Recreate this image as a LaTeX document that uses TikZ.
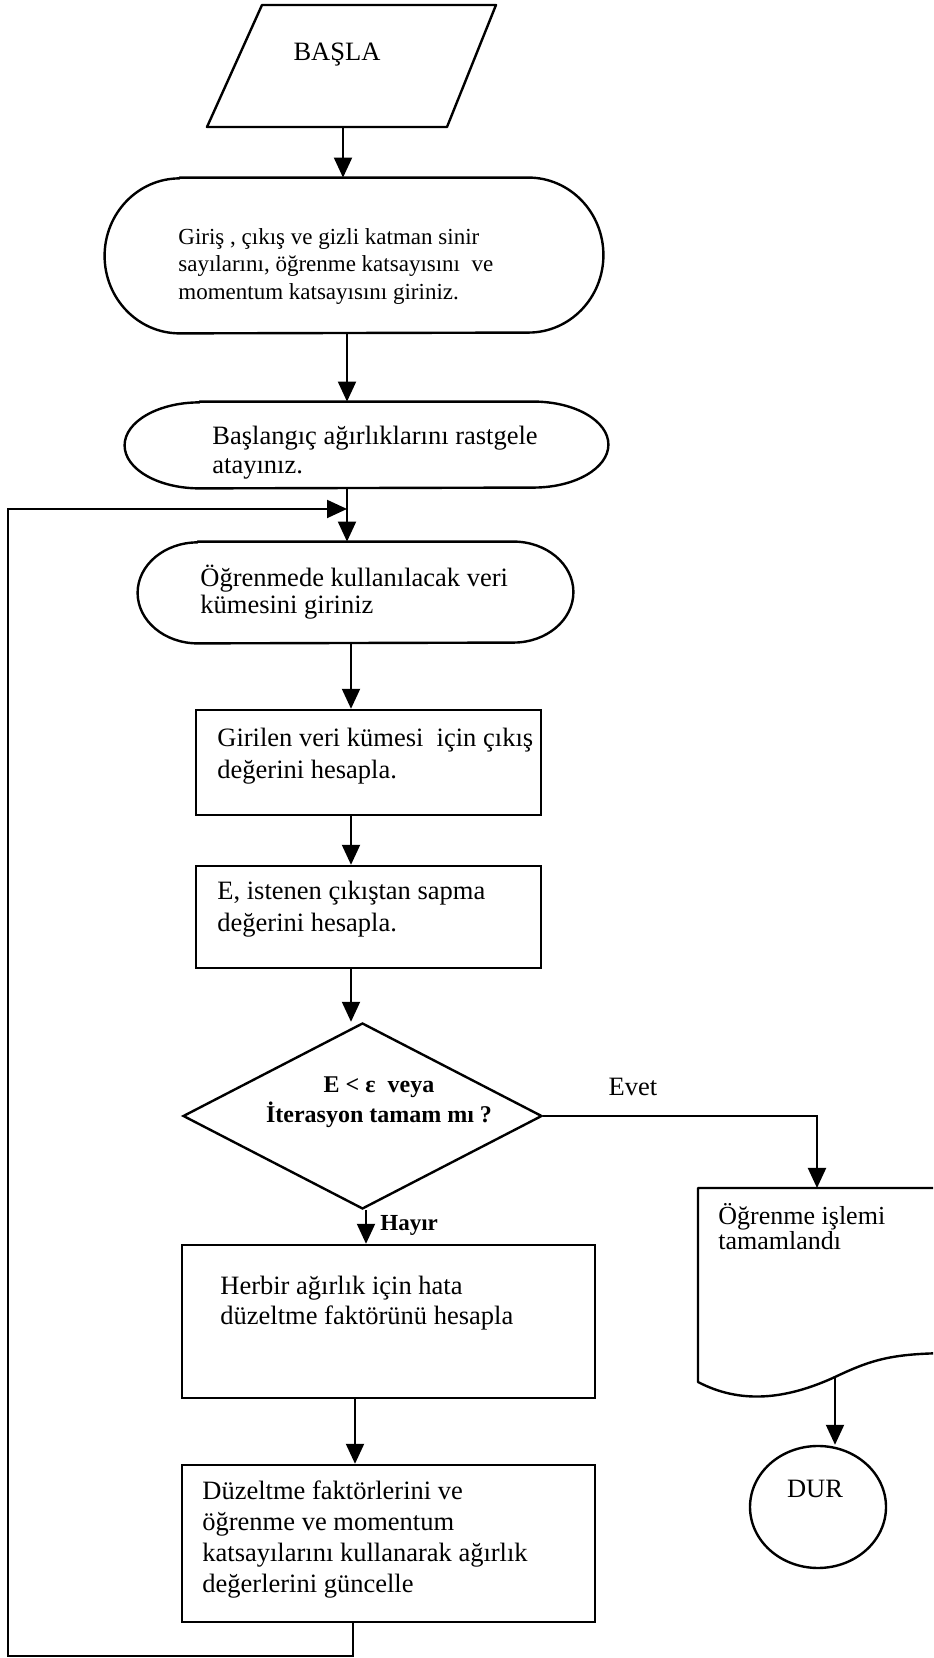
\documentclass[tikz,border=0pt]{standalone}
\usepackage{fontspec}
\setmainfont{Liberation Serif}
\usetikzlibrary{shapes.geometric,arrows.meta}

% first line strut, so the text nodes can hang from a fixed top
\newcommand{\firstln}{\rule{0pt}{12pt}}
% outline with elliptic ends round an (invisible) node
\newcommand{\ovalline}[3]{%
  \draw[line] ([xshift=#2]#1.north west) -- ([xshift=-#2]#1.north east)
    arc[start angle=90, end angle=-90, x radius=#2, y radius=#3]
    -- ([xshift=#2]#1.south west)
    arc[start angle=270, end angle=90, x radius=#2, y radius=#3] -- cycle;}

\tikzset{
  line/.style={line width=1.2pt, line join=round},
  arr/.style={line width=1pt, -{Triangle[length=10pt,width=9pt]}},
  slot/.style={rectangle, inner sep=0pt},
  box/.style={draw, line width=1.2pt, rectangle, inner sep=0pt},
  txt/.style={anchor=north west, align=left, inner sep=0pt},
}

\begin{document}
\begin{tikzpicture}[x=0.5pt, y=0.5pt, font=\fontsize{13.25}{16}\selectfont]
  \useasboundingbox (0,0) rectangle (933,1658);
  \clip (0,0) rectangle (933,1658);

  % Start
  \draw[line] (262,1653) -- (496,1653) -- (447,1531) -- (207,1531) -- cycle;
  \node[anchor=base] (start) at (337,1597) {BAŞLA};
  \coordinate (start-out) at (343,1531);

  % Input blocks
  \node[slot, minimum width=249pt, minimum height=77.5pt] (init) at (354,1402.5) {};
  \ovalline{init}{37.5pt}{38.75pt}
  \node[txt, font=\fontsize{11.5}{13.75}\selectfont] (init-t) at (178,1438)
    {\firstln Giriş , çıkış ve gizli katman sinir\\
     sayılarını, öğrenme katsayısını\ \ ve\\
     momentum katsayısını giriniz.};

  \node[slot, minimum width=241.5pt, minimum height=43pt] (weights) at (366.5,1213) {};
  \ovalline{weights}{37.5pt}{21.5pt}
  \node[txt, font=\fontsize{13.25}{14.5}\selectfont] (weights-t) at (212,1238)
    {\firstln Başlangıç ağırlıklarını rastgele\\ atayınız.};

  \node[slot, minimum width=217.5pt, minimum height=50.5pt] (data) at (355.5,1065.5) {};
  \ovalline{data}{30pt}{25.25pt}
  \node[txt, font=\fontsize{13.25}{13.5}\selectfont] (data-t) at (200,1096)
    {\firstln Öğrenmede kullanılacak veri\\ kümesini giriniz};

  % Forward pass and error
  \node[box, minimum width=172.5pt, minimum height=52.5pt] (output) at (368.5,895.5) {};
  \node[txt] (output-t) at (217,936)
    {\firstln Girilen veri kümesi\ \ için çıkış\\ değerini hesapla.};

  \node[box, minimum width=172.5pt, minimum height=51pt] (error) at (368.5,741) {};
  \node[txt] (error-t) at (217,783)
    {\firstln E, istenen çıkıştan sapma\\ değerini hesapla.};

  % Decision
  \node[diamond, draw, line width=1.2pt, inner sep=0pt,
        minimum width=179.5pt, minimum height=93pt] (check) at (362.5,542) {};
  \node[align=center, font=\bfseries\fontsize{12}{15}\selectfont] (check-t) at (379,556)
    {E < ε\ \ veya\\ İterasyon tamam mı ?};
  \node[anchor=base] (yes-t) at (633,562) {Evet};
  \node[anchor=base west, inner sep=0pt, font=\bfseries\fontsize{11.5}{13}\selectfont]
    (no-t) at (380,427) {Hayır};

  % Finished branch
  \draw[line] (960,470) -- (698,470) -- (698,276)
    .. controls (740,254) and (785,258) .. (835,281)
    .. controls (875,300) and (895,305) .. (960,305);
  \coordinate (doc-top) at (817,470);
  \coordinate (doc-out) at (835,281);
  \node[txt, font=\fontsize{13}{12.5}\selectfont] (doc-t) at (718,458)
    {\firstln Öğrenme işlemi\\ tamamlandı};
  \node[ellipse, draw, line width=1.2pt, inner sep=0pt,
        minimum width=68pt, minimum height=61pt] (dur) at (818,151) {};
  \node[anchor=base] (dur-t) at (815,160) {DUR};

  % Weight update
  \node[box, minimum width=206.5pt, minimum height=76.5pt] (corr) at (388.5,336.5) {};
  \node[txt, font=\fontsize{13.25}{15}\selectfont] (corr-t) at (220,388)
    {\firstln Herbir ağırlık için hata\\ düzeltme faktörünü hesapla};

  \node[box, minimum width=206.5pt, minimum height=78.5pt] (update) at (388.5,114.5) {};
  \node[txt, font=\fontsize{13.25}{15.5}\selectfont] (update-t) at (202,183)
    {\firstln Düzeltme faktörlerini ve\\
     öğrenme ve momentum\\
     katsayılarını kullanarak ağırlık\\
     değerlerini güncelle};

  % Connectors
  \coordinate (colA) at (347,0);
  \coordinate (colB) at (351,0);
  \coordinate (colC) at (366,0);
  \coordinate (colD) at (355,0);
  \coordinate (colE) at (353,0);
  \coordinate (loop-bl) at (8,2);
  \coordinate (loop-tl) at (8,1149);

  \draw[arr] (start-out) -- (start-out |- init.north);
  \draw[arr] (init.south -| colA) -- (weights.north -| colA);
  \draw[arr] (weights.south -| colA) -- (data.north -| colA);
  \draw[arr] (data.south -| colB) -- (output.north -| colB);
  \draw[arr] (output.south -| colB) -- (error.north -| colB);
  \draw[arr] (error.south -| colB) -- (colB |- check.north);
  \draw[arr] (check.south -| colC) -- (corr.north -| colC);
  \draw[arr] (corr.south -| colD) -- (update.north -| colD);
  \draw[arr] (check.east) -| (doc-top);
  \draw[arr] (doc-out) -- (doc-out |- dur.north);

  % Loop back to the data input
  \draw[arr] (update.south -| colE) |- (loop-bl) -- (loop-tl) -- (loop-tl -| colA);
\end{tikzpicture}
\end{document}
